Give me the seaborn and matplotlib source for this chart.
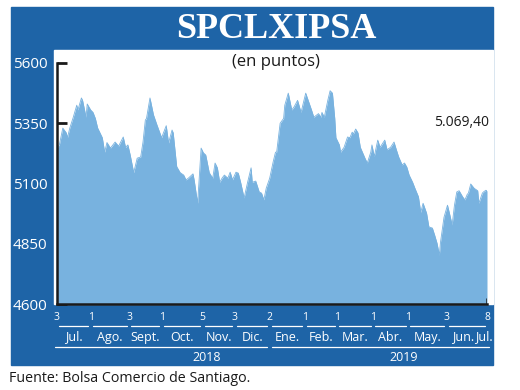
import numpy as np
import pandas as pd
import matplotlib
matplotlib.use("Agg")
import matplotlib.pyplot as plt
from matplotlib.patches import Rectangle
import seaborn as sns

# ── Colours ───────────────────────────────────────────────────────────────────
FRAME = "#1e64a7"; FILL = "#78b2df"; INK = "#1a1a1a"

sns.set_style("white")
plt.rcParams["font.family"] = ["Open Sans", "DejaVu Sans"]

# ── Data (días desde 3 jul. 2018, puntos) ────────────────────────────────────
dias = [0, 2, 5, 8, 9, 11, 14, 17, 18, 21, 22, 25, 26, 29, 31, 33, 35, 39, 41, 43,
        46, 50, 53, 57, 59, 61, 63, 66, 69, 72, 74, 76, 77, 80, 83, 86, 90, 94, 96,
        99, 100, 103, 106, 109, 111, 113, 117, 118, 121, 124, 126, 128, 131, 134,
        136, 138, 140, 142, 144, 147, 149, 151, 154, 156, 158, 161, 164, 167, 168,
        171, 174, 176, 178, 180, 183, 186, 188, 189, 192, 195, 196, 199, 202, 204,
        207, 210, 214, 217, 219, 221, 225, 227, 228, 230, 233, 235, 237, 239, 240,
        243, 244, 247, 250, 252, 254, 255, 257, 259, 261, 265, 267, 270, 271, 273,
        276, 278, 282, 284, 287, 290, 292, 294, 297, 299, 301, 303, 306, 308, 311,
        313, 315, 318, 320, 323, 325, 327, 329, 330, 333, 336, 338, 340, 342, 344,
        346, 349, 351, 353, 354, 356, 359, 362, 363, 366, 367, 369, 370]
puntos = [5247, 5260, 5330, 5310, 5290, 5330, 5375, 5425, 5405, 5455, 5445, 5375,
          5430, 5405, 5395, 5370, 5330, 5290, 5230, 5270, 5247, 5272, 5255, 5293,
          5250, 5260, 5218, 5145, 5205, 5210, 5272, 5363, 5370, 5455, 5385, 5343,
          5290, 5340, 5268, 5322, 5310, 5170, 5145, 5135, 5115, 5122, 5140, 5115,
          5018, 5247, 5227, 5218, 5145, 5122, 5185, 5165, 5105, 5122, 5135, 5122,
          5147, 5115, 5147, 5143, 5105, 5040, 5105, 5165, 5105, 5110, 5065, 5060,
          5032, 5080, 5122, 5190, 5230, 5230, 5350, 5370, 5425, 5475, 5405, 5418,
          5445, 5395, 5475, 5433, 5405, 5375, 5390, 5375, 5395, 5375, 5445, 5485,
          5475, 5370, 5290, 5260, 5230, 5250, 5293, 5290, 5313, 5305, 5326, 5310,
          5250, 5205, 5185, 5230, 5260, 5212, 5280, 5250, 5280, 5240, 5250, 5272,
          5240, 5210, 5177, 5185, 5168, 5135, 5105, 5080, 5045, 4980, 5018, 4977,
          4920, 4915, 4885, 4852, 4803, 4857, 4960, 5010, 4970, 4928, 5010, 5065,
          5070, 5045, 5032, 5055, 5060, 5098, 5080, 5070, 5018, 5060, 5065, 5072,
          5069.4]

tick_dias   = [0, 29, 62, 90, 125, 153, 183, 213, 241, 272, 302, 335, 370]
tick_labels = ["3", "1", "3", "1", "5", "3", "2", "1", "1", "1", "1", "3", "8"]
meses       = ["Jul.", "Ago.", "Sept.", "Oct.", "Nov.", "Dic.", "Ene.", "Feb.",
               "Mar.", "Abr.", "May.", "Jun.", "Jul."]
anios       = ["2018", "2019"]
y_ticks     = [4600, 4850, 5100, 5350, 5600]
ultimo      = "5.069,40"

df = pd.DataFrame({"dia": dias, "puntos": puntos})

# ── Figure & frame ────────────────────────────────────────────────────────────
W, H = 520, 390
fig = plt.figure(figsize=(W / 100, H / 100), dpi=100)
fig.add_artist(Rectangle((11 / W, 1 - 365 / H), 482 / W, 358 / H,
                         transform=fig.transFigure, color=FRAME, zorder=-2))
fig.add_artist(Rectangle((54 / W, 1 - 304 / H), 439 / W, 254 / H,
                         transform=fig.transFigure, color="white", zorder=-1))

ax = fig.add_axes([57 / W, 1 - 304 / H, 430 / W, 254 / H])
ax.patch.set_alpha(0)
ax.set_axisbelow(True)

sns.lineplot(data=df, x="dia", y="puntos", ax=ax, color=FILL, lw=0.6)
ax.fill_between(df["dia"], df["puntos"], 4600, color=FILL, lw=0, zorder=1)

ax.set_xlim(0, 370)
ax.set_ylim(4600, 4600 + 254 / 0.241)
ax.set_xlabel(""); ax.set_ylabel("")

for s in ["top", "right"]:
    ax.spines[s].set_visible(False)
ax.spines["left"].set_bounds(4600, 5600)
ax.spines["bottom"].set_bounds(0, 370)
for s in ["left", "bottom"]:
    ax.spines[s].set_color(INK); ax.spines[s].set_linewidth(1.8)
    ax.spines[s].set_zorder(3)

ax.set_yticks(y_ticks)
ax.set_yticklabels([str(v) for v in y_ticks])
ax.tick_params(axis="y", left=True, direction="in", length=7, width=2, color=INK,
               labelcolor="white", labelsize=11, pad=7)
ax.set_xticks([])
ax.vlines(370, 4600, 4625, color=INK, lw=1.8, zorder=3)

# ── Header texts ─────────────────────────────────────────────────────────────
fig.text(276 / W, 1 - 29 / H, "SPCLXIPSA", ha="center", va="center",
         color="white", fontsize=26, fontweight="bold",
         family=["Liberation Serif", "DejaVu Serif"])
fig.text(276 / W, 1 - 62 / H, "(en puntos)", ha="center", va="center",
         color=INK, fontsize=12)
ax.text(0.94, (5352 - 4600) / (254 / 0.241), ultimo,
        transform=ax.transAxes, ha="center", va="center", color=INK, fontsize=10)

# ── Date axis (two levels) ───────────────────────────────────────────────────
tr = ax.get_xaxis_transform()
for d, lab in zip(tick_dias, tick_labels):
    ax.text(d, -0.055, lab, transform=tr, ha="center", va="center",
            color="white", fontsize=7.5)
for a, b in zip(tick_dias[:-1], tick_dias[1:]):
    ax.plot([a + 2, b - 2], [-0.087, -0.087], transform=tr, color="white",
            lw=0.9, clip_on=False)
mid = [(a + b) / 2 for a, b in zip(tick_dias[:-1], tick_dias[1:])]
mid[-1] -= 3
for m, lab in zip(mid, meses[:-1]):
    ax.text(m, -0.13, lab, transform=tr, ha="center", va="center",
            color="white", fontsize=9)
ax.text(375, -0.13, meses[-1], transform=tr, ha="right", va="center",
        color="white", fontsize=9)

for (a, b), yr, pos in zip([(-2, 181), (185, 372)], anios, [129, 298]):
    ax.plot([a, b], [-0.169, -0.169], transform=tr, color="white",
            lw=0.9, clip_on=False)
    ax.text(pos, -0.209, yr, transform=tr, ha="center", va="center",
            color="white", fontsize=9)

fig.text(9 / W, 1 - 378 / H, "Fuente: Bolsa Comercio de Santiago.",
         ha="left", va="center", color=INK, fontsize=10.3)

fig.savefig("out.png", dpi=100)
plt.close()
